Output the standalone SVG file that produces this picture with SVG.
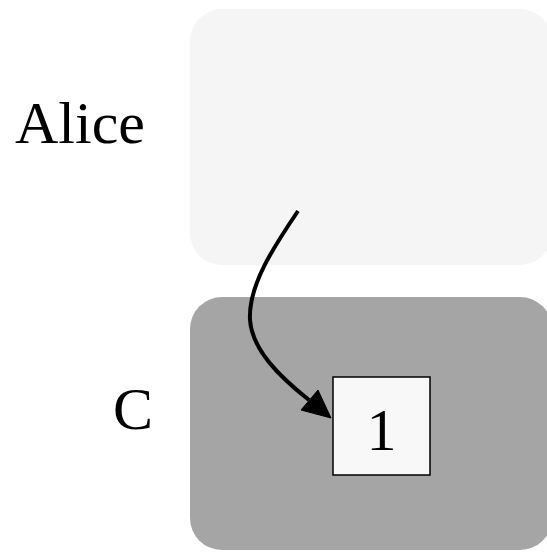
<svg xmlns="http://www.w3.org/2000/svg" width="547" height="552" viewBox="0 0 547 552">
<style>
.lbl{font-family:'Liberation Serif','Times New Roman',serif;font-size:60px;fill:#000}
.edge{fill:none;stroke:#000;stroke-width:4}
</style>
<rect width="547" height="552" fill="#fff"/>
<g id="cluster-alice">
<rect x="190" y="9" width="362" height="256" rx="32" fill="#f5f5f5"/>
<text class="lbl" x="15" y="143">Alice</text>
</g>
<g id="cluster-c">
<rect x="190" y="297" width="362" height="253" rx="32" fill="#a5a5a5"/>
<text class="lbl" x="113" y="429">C</text>
</g>
<g id="node-1">
<rect x="333" y="377" width="97" height="98" fill="#f8f8f8" stroke="#000" stroke-width="1.5"/>
<text class="lbl" x="381.5" y="450" text-anchor="middle">1</text>
</g>
<g id="connectors">
<path class="edge" d="M298,211 C275,245 248,285 250,320 C252,350 280,377 309,400"/>
<polygon points="331,418 301,410 318,390" fill="#000" stroke="#000" stroke-width="1"/>
</g>
</svg>
